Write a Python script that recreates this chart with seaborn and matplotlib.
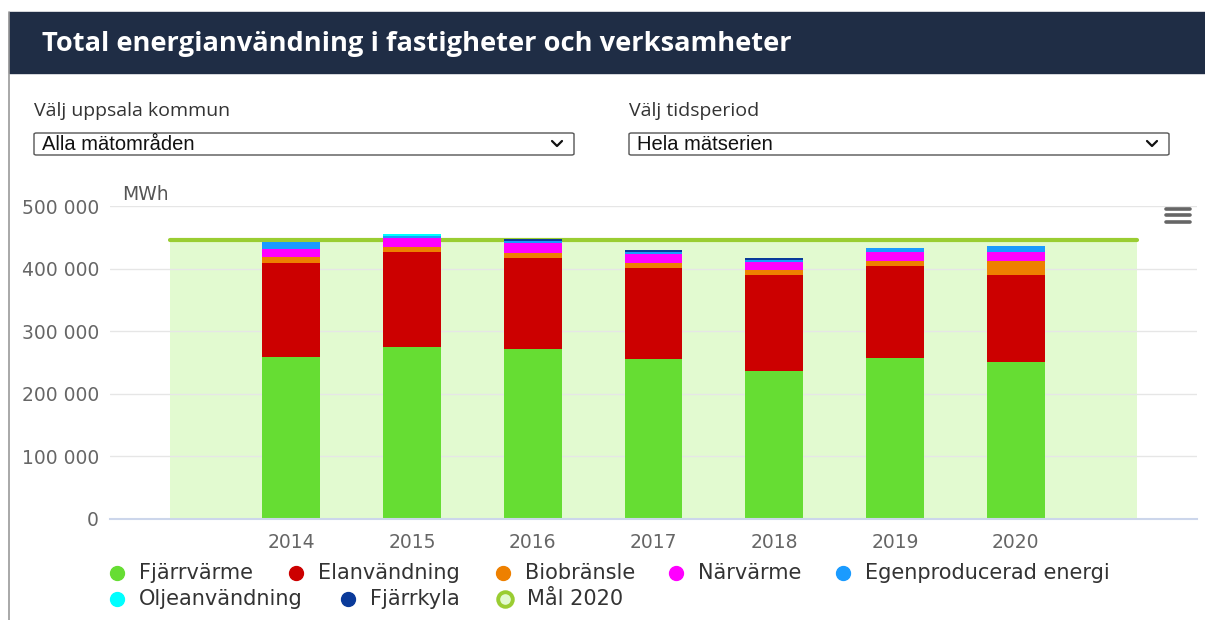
import pandas as pd
import seaborn as sns
import matplotlib.pyplot as plt
from matplotlib.patches import Rectangle, FancyBboxPatch
from matplotlib.lines import Line2D

# data (MWh)
years = ['2014', '2015', '2016', '2017', '2018', '2019', '2020']
all_years = ['2013'] + years + ['2021']   # goal band spans one step outside the bars
fjarrvarme = [259000, 275000, 271500, 255600, 236400, 257200, 250800]
elanvandning = [150400, 151000, 145000, 144900, 153900, 146400, 139500]
biobransle = [9100, 8500, 8000, 8000, 8000, 9000, 22300]
narvarme = [13300, 14400, 17000, 14300, 12200, 13900, 13900]
egenproducerad = [10200, 3100, 3000, 4200, 3700, 5900, 9100]
oljeanvandning = [1000, 2800, 0, 0, 0, 1000, 1000]
fjarrkyla = [0, 0, 2400, 2200, 2800, 0, 0]
mal_2020 = 445000

series_names = ['Fjärrvärme', 'Elanvändning', 'Biobränsle', 'Närvärme',
                'Egenproducerad energi', 'Oljeanvändning', 'Fjärrkyla']
series_colors = ['#66dd33', '#cc0000', '#ee8000', '#ff00ff',
                 '#1a9bff', '#00ffff', '#0a3a9a']

df = pd.DataFrame({'year': years,
                   'Fjärrvärme': fjarrvarme,
                   'Elanvändning': elanvandning,
                   'Biobränsle': biobransle,
                   'Närvärme': narvarme,
                   'Egenproducerad energi': egenproducerad,
                   'Oljeanvändning': oljeanvandning,
                   'Fjärrkyla': fjarrkyla})
cum = df[series_names].cumsum(axis=1)

sns.set_theme(style='white')
plt.rcParams['font.family'] = ['DejaVu Sans']

W, H = 1205, 620
fig = plt.figure(figsize=(W / 100, H / 100), dpi=100)


def fx(px):
    return px / W


def fy(py):
    return 1 - py / H


# header band + frame
fig.patches.append(Rectangle((fx(9), fy(73)), 1 - fx(9), 61 / H,
                             transform=fig.transFigure, color='#1f2d45', zorder=0))
fig.add_artist(Line2D([fx(9), fx(9)], [0, fy(12)], color='#9a9a9a', lw=1.2))
fig.text(fx(42), fy(44), 'Total energianvändning i fastigheter och verksamheter',
         color='white', fontsize=19.6, fontweight='bold', family='Open Sans',
         va='center', ha='left')

# dropdowns
for lab, val, x0, x1 in [('Välj uppsala kommun', 'Alla mätområden', 34, 574),
                         ('Välj tidsperiod', 'Hela mätserien', 629, 1169)]:
    fig.text(fx(x0), fy(111), lab, color='#333333', fontsize=14,
             family='Open Sans', va='center', ha='left')
    fig.patches.append(FancyBboxPatch((fx(x0), fy(155)), fx(x1 - x0), 22 / H,
                                      boxstyle='round,pad=0,rounding_size=0.002',
                                      transform=fig.transFigure, fc='white',
                                      ec='#555555', lw=1))
    fig.text(fx(x0 + 8), fy(144), val, color='#111111', fontsize=14.5,
             family='Liberation Sans', va='center', ha='left')
    cx = x1 - 17
    fig.add_artist(Line2D([fx(cx - 5), fx(cx), fx(cx + 5)],
                          [fy(141), fy(146), fy(141)], color='#111111', lw=1.6))

# hamburger menu
for yy in (209, 215, 222):
    fig.add_artist(Line2D([fx(1166), fx(1190)], [fy(yy), fy(yy)],
                          color='#666666', lw=2.6, solid_capstyle='round'))

# chart
ax = fig.add_axes([fx(110), fy(519), fx(1197 - 110), (519 - 206) / H])
pos = list(range(len(all_years)))
ax.fill_between(pos, 0, [mal_2020] * len(pos), color='#e2fad0', lw=0, zorder=0.5)
sns.lineplot(x=pos, y=[mal_2020] * len(pos), color='#9acd32', lw=3, ax=ax,
             zorder=0.6)

# stacked bars: draw cumulative totals from top series down
for name, color in reversed(list(zip(series_names, series_colors))):
    sns.barplot(x=df['year'], y=cum[name], order=all_years, color=color,
                saturation=1, width=0.48, linewidth=0, ax=ax, zorder=2)

ax.set_xlim(-0.5, len(all_years) - 0.5)
ax.set_ylim(0, 500000)
ax.set_yticks(range(0, 500001, 100000))
ax.set_yticklabels([f'{v:,}'.replace(',', ' ') for v in range(0, 500001, 100000)])
ax.set_xticks(range(1, len(years) + 1))
ax.set_xticklabels(years)
ax.set_xlabel('')
ax.set_ylabel('')
ax.grid(axis='y', color='#e6e6e6', lw=1)
ax.set_axisbelow(True)
for s in ('top', 'right', 'left'):
    ax.spines[s].set_visible(False)
ax.spines['bottom'].set_color('#ccd6eb')
ax.spines['bottom'].set_linewidth(1.5)
ax.tick_params(axis='both', length=0, colors='#666666', labelsize=13.5)
ax.tick_params(axis='x', pad=10)
ax.tick_params(axis='y', pad=8)
fig.text(fx(122), fy(195), 'MWh', color='#555555', fontsize=13.5,
         va='center', ha='left')

# legend
legend_items = [('Fjärrvärme', 117, 573), ('Elanvändning', 296, 573),
                ('Biobränsle', 503, 573), ('Närvärme', 676, 573),
                ('Egenproducerad energi', 843, 573), ('Oljeanvändning', 117, 599),
                ('Fjärrkyla', 348, 599)]
for (name, x, y), color in zip(legend_items, series_colors):
    fig.add_artist(Line2D([fx(x)], [fy(y)], marker='o', ms=10, color=color,
                          mec=color, lw=0))
    fig.text(fx(x + 22), fy(y), name, color='#333333', fontsize=15,
             va='center', ha='left')
fig.add_artist(Line2D([fx(505)], [fy(599)], marker='o', ms=10.5, mfc='#e2fad0',
                      mec='#9acd32', mew=2.8, lw=0))
fig.text(fx(527), fy(599), 'Mål 2020', color='#333333', fontsize=15,
         va='center', ha='left')

fig.savefig('out.png', dpi=100)
